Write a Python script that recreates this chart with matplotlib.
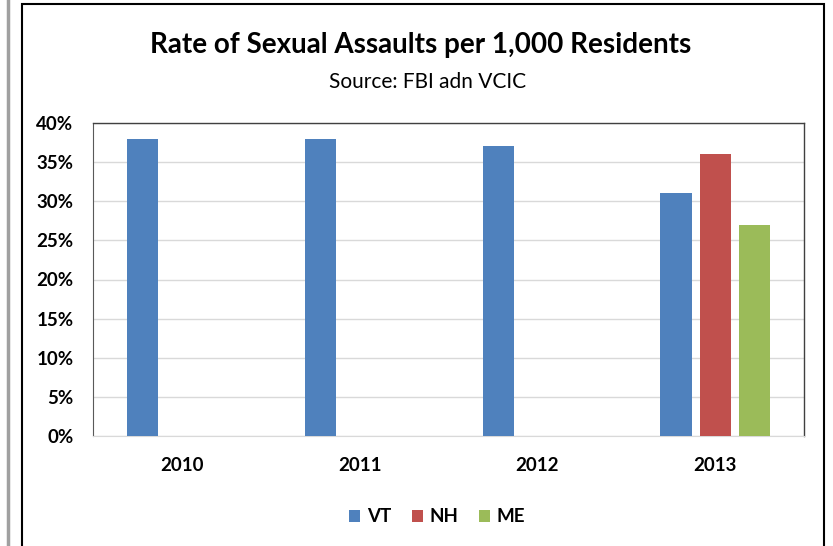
"""Rate of sexual assaults per 1,000 residents, clustered bar chart."""
import numpy as np
import matplotlib.pyplot as plt
from matplotlib.lines import Line2D
from matplotlib.patches import Rectangle
from matplotlib.ticker import FuncFormatter

years = ['2010', '2011', '2012', '2013']
states = ['VT', 'NH', 'ME']
vt = [38, 38, 37, 31]
nh = [0, 0, 0, 36]
me = [0, 0, 0, 27]
colors = ['#4f81bd', '#c0504d', '#9bbb59']

plt.rcParams['font.family'] = ['Lato', 'DejaVu Sans']

W, H = 833, 546
fig = plt.figure(figsize=(W / 100, H / 100), dpi=100)
ax = fig.add_axes([93 / W, 1 - 436 / H, (804 - 93) / W, (436 - 123) / H])

x = np.arange(len(years))
step = 0.22
width = 0.175
for i, (vals, name) in enumerate(zip([vt, nh, me], states)):
    ax.bar(x + (i - 1) * step, vals, width, color=colors[i], label=name, zorder=3)

ax.set_xlim(-0.5, len(years) - 0.5)
ax.set_ylim(0, 40)
ax.set_yticks(range(0, 41, 5))
ax.yaxis.set_major_formatter(FuncFormatter(lambda v, p: f'{v:.0f}%'))
ax.set_xticks(x)
ax.set_xticklabels(years)
ax.tick_params(length=0)
ax.tick_params(axis='y', pad=14)
ax.tick_params(axis='x', pad=15)
for lab in ax.get_xticklabels() + ax.get_yticklabels():
    lab.set_fontsize(13.5)
    lab.set_fontweight('bold')

ax.grid(axis='y', color='#d9d9d9', linewidth=1, zorder=0)
for side in ['top', 'right']:
    ax.spines[side].set_color('#404040')
    ax.spines[side].set_linewidth(1)
ax.spines['left'].set_color('#595959')
ax.spines['bottom'].set_color('#d9d9d9')

fig.text(421 / W, 1 - 45 / H, 'Rate of Sexual Assaults per 1,000 Residents',
         ha='center', va='center', fontsize=20, fontweight='bold')
fig.text(428 / W, 1 - 82 / H, 'Source: FBI adn VCIC',
         ha='center', va='center', fontsize=15)

ax.legend(loc='center', bbox_to_anchor=(437 / W, 1 - 517 / H),
          bbox_transform=fig.transFigure, ncol=3, frameon=False,
          handlelength=0.6, handleheight=0.6, handletextpad=0.35,
          columnspacing=1.1, prop={'size': 13.5, 'weight': 'bold'})

# outer frames
fig.add_artist(Line2D([8 / W, 8 / W], [0, 1], color='#a0a0a0', linewidth=2.5))
fig.add_artist(Rectangle((22 / W, -0.05), (824 - 22) / W, 1.05 - 4 / H,
                         fill=False, edgecolor='black', linewidth=1.5,
                         transform=fig.transFigure))

fig.savefig('out.png', dpi=100)
